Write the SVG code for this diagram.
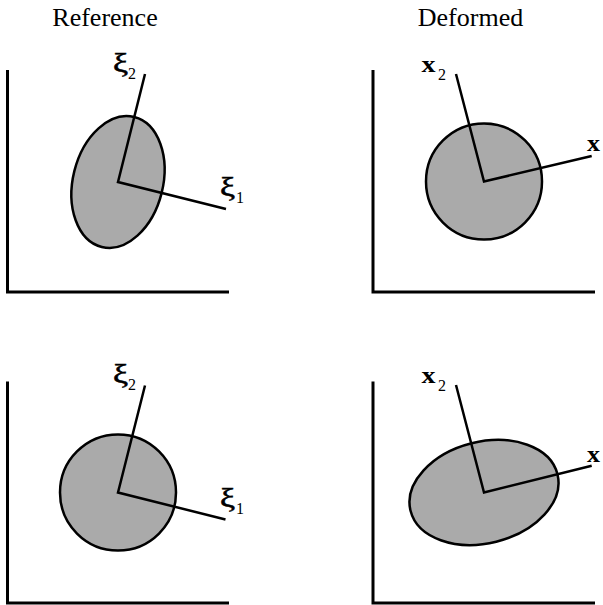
<svg xmlns="http://www.w3.org/2000/svg" width="603" height="605" viewBox="0 0 603 605">
<style>
.ax{fill:none;stroke:#000;stroke-width:3}
.ln{fill:none;stroke:#000;stroke-width:2.5}
.sh{fill:#aaaaaa;stroke:#000;stroke-width:2.5}
.t{font-family:"Liberation Serif","Times New Roman",serif;fill:#000}
.title{font-size:26px}
.g{font-size:28px;stroke:#000;stroke-width:0.6}
.b{font-size:23px;font-weight:bold}
.s{font-size:16px}
</style>
<rect width="603" height="605" fill="#fff"/>
<text class="t title" x="105" y="26" text-anchor="middle">Reference</text>
<text class="t title" x="470.5" y="26" text-anchor="middle">Deformed</text>

<g id="panel-ref-top">
<path class="ax" d="M7.5,70 V292 H229"/>
<ellipse class="sh" cx="118" cy="182" rx="45" ry="67" transform="rotate(14 118 182)"/>
<path class="ln" d="M145,74 L118,182 L226,209"/>
<text class="t g" x="113" y="72" textLength="15" lengthAdjust="spacingAndGlyphs">ξ</text><text class="t s" x="128" y="79">2</text>
<text class="t g" x="220" y="196" textLength="15" lengthAdjust="spacingAndGlyphs">ξ</text><text class="t s" x="236" y="203">1</text>
</g>

<g id="panel-def-top">
<path class="ax" d="M373,70 V292 H595"/>
<circle class="sh" cx="484" cy="181.5" r="58"/>
<path class="ln" d="M456,74 L484,181.5 L591.7,156"/>
<text class="t b" x="421.5" y="72" textLength="14" lengthAdjust="spacingAndGlyphs">x</text><text class="t s" x="438" y="80">2</text>
<text class="t b" x="587" y="151" textLength="13" lengthAdjust="spacingAndGlyphs">x</text>
</g>

<g id="panel-ref-bottom">
<path class="ax" d="M7.5,381.5 V603 H229"/>
<circle class="sh" cx="118" cy="492.5" r="58"/>
<path class="ln" d="M145,385.5 L118,492.5 L225.5,519.5"/>
<text class="t g" x="113" y="383" textLength="15" lengthAdjust="spacingAndGlyphs">ξ</text><text class="t s" x="128" y="390">2</text>
<text class="t g" x="220" y="507" textLength="15" lengthAdjust="spacingAndGlyphs">ξ</text><text class="t s" x="236" y="514">1</text>
</g>

<g id="panel-def-bottom">
<path class="ax" d="M373,381.5 V603 H595"/>
<ellipse class="sh" cx="484" cy="492.5" rx="75.7" ry="50.7" transform="rotate(-14 484 492.5)"/>
<path class="ln" d="M456,385 L484,492.5 L591.7,465.7"/>
<text class="t b" x="421.5" y="383" textLength="14" lengthAdjust="spacingAndGlyphs">x</text><text class="t s" x="438" y="391">2</text>
<text class="t b" x="587" y="462" textLength="13" lengthAdjust="spacingAndGlyphs">x</text>
</g>
</svg>
